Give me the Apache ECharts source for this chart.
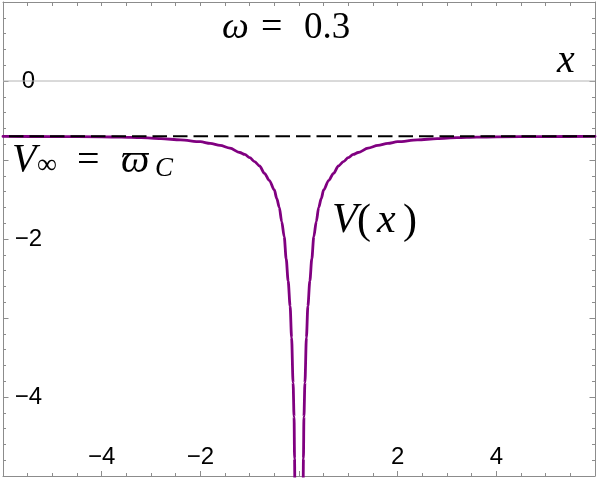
<!DOCTYPE html>
<html>
<head>
<meta charset="utf-8">
<script src="https://cdn.jsdelivr.net/npm/echarts@6/dist/echarts.min.js"></script>
<style>
html,body{margin:0;padding:0;background:#fff;}
#c{width:598px;height:478px;}
</style>
</head>
<body>
<div id="c"></div>
<script>
// ---- data ----
const xValues = [-6, -5, -4, -3.6, -3.2, -2.8, -2.4, -2.0, -1.8, -1.6, -1.4, -1.2, -1.1, -1.0, -0.9, -0.8, -0.7, -0.6, -0.5, -0.45, -0.4, -0.35, -0.3, -0.26, -0.22, -0.18, -0.15, -0.12, -0.1, -0.09, -0.08, -0.06,
                 0.06, 0.08, 0.09, 0.1, 0.12, 0.15, 0.18, 0.22, 0.26, 0.3, 0.35, 0.4, 0.45, 0.5, 0.6, 0.7, 0.8, 0.9, 1.0, 1.1, 1.2, 1.4, 1.6, 1.8, 2.0, 2.4, 2.8, 3.2, 3.6, 4, 5, 6];
const vValues = [-0.701, -0.703, -0.707, -0.711, -0.718, -0.73, -0.745, -0.768, -0.79, -0.815, -0.85, -0.905, -0.93, -0.97, -1.02, -1.075, -1.17, -1.26, -1.38, -1.49, -1.60, -1.78, -1.97, -2.25, -2.53, -2.85, -3.25, -3.82, -4.25, -4.78, -5.45, -7.2,
                 -7.2, -5.45, -4.78, -4.25, -3.82, -3.25, -2.85, -2.53, -2.25, -1.97, -1.78, -1.60, -1.49, -1.38, -1.26, -1.17, -1.075, -1.02, -0.97, -0.93, -0.905, -0.85, -0.815, -0.79, -0.768, -0.745, -0.73, -0.718, -0.711, -0.707, -0.703, -0.701];
const asymX = [-6, 6];
const asymV = [-0.7, -0.7];
const zeroX = [-6, 6];
const zeroV = [0, 0];
const xTickLabels = [-4, -2, 2, 4];
const yTickLabels = [0, -2, -4];

const curveData = xValues.map((x, i) => [x, vValues[i]]);
const asymData = asymX.map((x, i) => [x, asymV[i]]);
const zeroData = zeroX.map((x, i) => [x, zeroV[i]]);

const frameColor = '#8c8c8c';
const tickColor = '#8c8c8c';
const fmt = v => (v < 0 ? '\u2212' + (-v) : String(v));

const chart = echarts.init(document.getElementById('c'), null, {renderer: 'canvas'});

const serif = '"Liberation Serif", "DejaVu Serif", serif';
function T(text, x, y, size, italic) {
  return {
    type: 'text', x: x, y: y, silent: true, z: 100,
    style: {
      text: text, fill: '#000', font: (italic ? 'italic ' : '') + size + 'px ' + serif,
      align: 'left', verticalAlign: 'middle'
    }
  };
}

const option = {
  animation: false,
  backgroundColor: '#fff',
  grid: {left: 2, right: 2, top: 2, bottom: 2, containLabel: false},
  xAxis: [
    {
      type: 'value', position: 'bottom', min: -6, max: 6, interval: 2,
      axisLine: {show: true, onZero: false, lineStyle: {color: frameColor, width: 1}},
      axisTick: {show: true, inside: true, length: 5, lineStyle: {color: tickColor}},
      minorTick: {show: true, splitNumber: 4, length: 3, lineStyle: {color: tickColor}},
      splitLine: {show: false},
      axisLabel: {
        show: true, inside: true, margin: 19, verticalAlign: 'middle',
        color: '#000', fontSize: 24, fontFamily: '"Liberation Sans", Arial, sans-serif',
        formatter: v => (xTickLabels.includes(v) ? fmt(v) : '')
      }
    },
    {
      type: 'value', position: 'top', min: -6, max: 6, interval: 0.5,
      axisLine: {show: true, onZero: false, lineStyle: {color: frameColor, width: 1}},
      axisTick: {show: true, inside: true, length: 4, lineStyle: {color: tickColor}},
      splitLine: {show: false},
      axisLabel: {show: false}
    }
  ],
  yAxis: [
    {
      type: 'value', position: 'left', min: -5, max: 1, interval: 1,
      axisLine: {show: true, onZero: false, lineStyle: {color: frameColor, width: 1}},
      axisTick: {show: true, inside: true, length: 5.5, lineStyle: {color: tickColor}},
      minorTick: {show: true, splitNumber: 5, length: 3, lineStyle: {color: tickColor}},
      splitLine: {show: false},
      axisLabel: {
        show: true, inside: true, margin: 25.5, align: 'center', verticalAlign: 'middle',
        color: '#000', fontSize: 24, fontFamily: '"Liberation Sans", Arial, sans-serif',
        formatter: v => (yTickLabels.includes(v) ? fmt(v) : '')
      }
    },
    {
      type: 'value', position: 'right', min: -5, max: 1, interval: 1,
      axisLine: {show: true, onZero: false, lineStyle: {color: frameColor, width: 1}},
      axisTick: {show: true, inside: true, length: 5.5, lineStyle: {color: tickColor}},
      minorTick: {show: true, splitNumber: 5, length: 3, lineStyle: {color: tickColor}},
      splitLine: {show: false},
      axisLabel: {show: false}
    }
  ],
  series: [
    {
      type: 'line', data: zeroData, xAxisIndex: 0, yAxisIndex: 0,
      symbol: 'none', silent: true, z: 1,
      lineStyle: {color: '#b4b4b4', width: 1}
    },
    {
      type: 'line', data: curveData, xAxisIndex: 0, yAxisIndex: 0,
      symbol: 'none', smooth: 0.3, smoothMonotone: 'x', clip: true, silent: true, z: 2,
      lineStyle: {color: '#800080', width: 2.8, cap: 'round', join: 'round'}
    },
    {
      type: 'line', data: asymData, xAxisIndex: 0, yAxisIndex: 0,
      symbol: 'none', silent: true, z: 3,
      lineStyle: {color: '#000', width: 2, type: [14.5, 6], dashOffset: 14.5}
    }
  ],
  graphic: [
    // omega = 0.3
    T('\u03C9', 222, 28, 38, true),
    T('=', 261, 28, 38, false),
    T('0.3', 304, 28, 37, false),
    // x axis label
    T('x', 557, 61, 40, true),
    // V_inf = varpi_C
    T('V', 12, 160, 40, true),
    T('\u221E', 37, 166, 28, false),
    T('=', 77, 161, 40, false),
    T('\u03D6', 121, 161, 40, true),
    T('C', 155, 169, 27, true),
    // V(x)
    T('V', 332, 221, 42, true),
    T('(', 357, 222, 42, false),
    T('x', 377, 221, 42, true),
    T(')', 403, 222, 42, false)
  ]
};
chart.setOption(option);
</script>
</body>
</html>
